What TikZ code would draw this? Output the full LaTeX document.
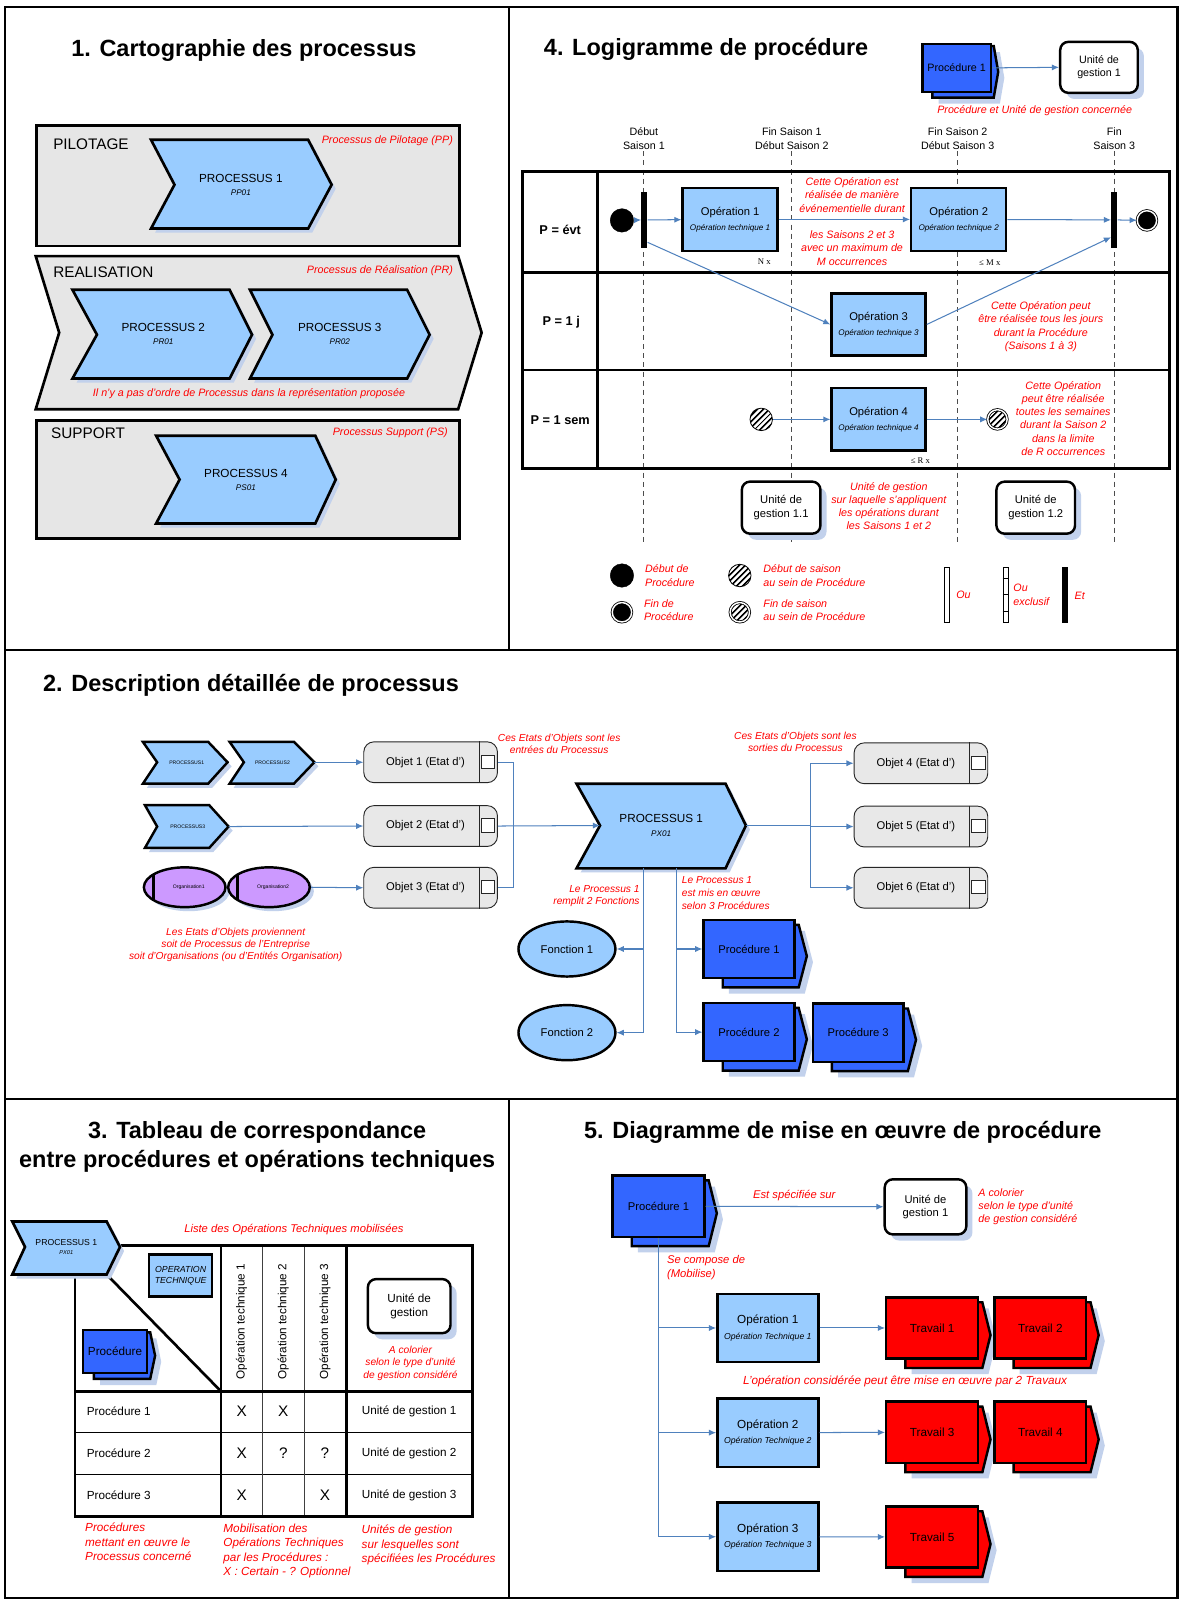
\documentclass[tikz,border=0pt]{standalone}
\usepackage{fontspec}
\setmainfont{Liberation Sans}
\newfontfamily\timesx{Liberation Serif}
\usetikzlibrary{arrows.meta,shapes.geometric,shadows,backgrounds,patterns.meta}

\definecolor{lightblue}{HTML}{99CCFF}
\definecolor{procblue}{HTML}{3366FF}
\definecolor{lanegray}{HTML}{E6E6E6}
\definecolor{objgray}{HTML}{E8E8E8}
\definecolor{orgviolet}{HTML}{CC99FF}
\definecolor{linkblue}{HTML}{4F81BD}
\definecolor{shadowblue}{HTML}{C2D1EC}
\definecolor{notered}{HTML}{FF0000}
\definecolor{travred}{HTML}{FF0000}

\newcommand{\subtxt}[1]{{\fontsize{8}{9}\selectfont\itshape #1}}
\newcommand{\codetxt}[1]{{\fontsize{8}{9}\selectfont\itshape #1}}

\begin{document}
\begin{tikzpicture}[x=1pt,y=-1pt,font=\fontsize{11}{13}\selectfont]
  \tikzset{
    frame/.style={line width=2.4pt},
    ptitle/.style={font=\fontsize{23}{28}\selectfont\bfseries,align=center},
    lanelabel/.style={font=\fontsize{15}{18}\selectfont,anchor=west,inner sep=0pt},
    lane/.style={draw,line width=2.6pt,fill=lanegray},
    shadowed/.style={drop shadow={shadow xshift=4pt,shadow yshift=-4pt,fill=shadowblue,opacity=1}},
    deepshadow/.style={drop shadow={shadow xshift=6pt,shadow yshift=-6pt,fill=shadowblue,opacity=1}},
    chev/.style={draw,line width=2.6pt,fill=lightblue,shadowed},
    chevtxt/.style={align=center,inner sep=0pt,font=\fontsize{11.5}{13}\selectfont},
    note/.style={font=\fontsize{10.5}{13}\selectfont\itshape,text=notered,align=center,inner sep=0pt},
    link/.style={draw=linkblue,line width=1pt},
    conn/.style={link,-{Latex[length=7pt,width=6pt]}},
    opbox/.style={draw,line width=2.4pt,fill=lightblue,align=center,inner sep=0pt},
    proc/.style={draw,line width=2.4pt,fill=procblue,align=center,inner sep=0pt},
    trav/.style={proc,fill=travred},
    procback/.style={draw,line width=2.4pt,fill=procblue,line join=miter,deepshadow},
    unit/.style={draw,line width=2.4pt,fill=white,rounded corners=8pt,align=center,
      inner sep=0pt,deepshadow},
    objet/.style={draw=black!85,line width=0.9pt,fill=objgray,rounded corners=10pt,
      minimum width=131pt,minimum height=40pt,inner sep=0pt},
    func/.style={ellipse,draw,line width=2.4pt,fill=lightblue,inner sep=0pt,
      minimum width=95pt,minimum height=54pt},
    orga/.style={ellipse,draw,line width=2.4pt,fill=orgviolet,inner sep=0pt,
      minimum width=80pt,minimum height=39pt,font=\fontsize{5}{6}\selectfont,shadowed},
    startdot/.style={circle,fill=black,draw,minimum size=23pt,inner sep=0pt},
    enddot/.style={circle,fill=black,draw,line width=0.8pt,double=white,
      double distance=1.4pt,minimum size=19pt,inner sep=0pt},
    hatch/.style={preaction={fill=white},pattern={Lines[angle=45,distance=4pt,line width=1.8pt]}},
    seasondot/.style={circle,draw,line width=0.8pt,hatch,minimum size=22pt,inner sep=0pt},
    seasonend/.style={circle,draw,line width=0.8pt,double=white,double distance=1.4pt,
      hatch,minimum size=19pt,inner sep=0pt},
    syncbar/.style={fill=black,minimum width=6pt,minimum height=55pt,inner sep=0pt},
    choicebar/.style={draw,line width=1pt,fill=white,minimum width=5pt,minimum height=54pt,inner sep=0pt},
    season/.style={draw=black!70,line width=0.8pt,dash pattern=on 5pt off 4pt},
    rowlab/.style={font=\fontsize{12.5}{15}\selectfont\bfseries},
    collab/.style={font=\fontsize{10.5}{14}\selectfont,align=center,inner sep=1pt},
    count/.style={font=\timesx\fontsize{8.5}{10}\selectfont,inner sep=0pt},
    tabthick/.style={line width=2.6pt},
    tabthin/.style={line width=1.2pt},
    tick/.style={font=\fontsize{15}{17}\selectfont}
  }

  \useasboundingbox (0,0) rectangle (1157,1568);
  \begin{scope}[on background layer]
    \fill[white] (0,0) rectangle (1157,1568);
  \end{scope}

  % 1. Cartographie des processus
  \node[ptitle] (t1) at (239,49) {1. Cartographie des processus};
  \draw[lane] (36,123) rectangle (450,241);
  \draw[lane] (35,251) -- (449,251) -- (472,326) -- (449,401) -- (35,401) -- (58,326) -- cycle;
  \draw[lane] (36,412) rectangle (450,528);
  \node[lanelabel] (pilot) at (52,141) {PILOTAGE};
  \node[lanelabel] (real) at (52,267) {REALISATION};
  \node[lanelabel] (supp) at (50,425) {SUPPORT};
  \node[note,anchor=east] (pilotnote) at (444,138) {Processus de Pilotage (PP)};
  \node[note,anchor=east] (realnote) at (444,265) {Processus de Réalisation (PR)};
  \node[note,anchor=east] (suppnote) at (439,424) {Processus Support (PS)};
  \node[note] (ordernote) at (244,386) {Il n'y a pas d'ordre de Processus dans la représentation proposée};
  \draw[chev] (148,137) -- (302,137) -- (325,181) -- (302,224) -- (148,224) -- (171,181) -- cycle;
  \node[chevtxt] (pp01) at (236,181) {PROCESSUS 1\\\codetxt{PP01}};
  \draw[chev] (71,284) -- (225,284) -- (247,328) -- (225,371) -- (71,371) -- (95,328) -- cycle;
  \node[chevtxt] (pr01) at (160,327) {PROCESSUS 2\\\codetxt{PR01}};
  \draw[chev] (245,284) -- (399,284) -- (421,328) -- (399,371) -- (245,371) -- (267,328) -- cycle;
  \node[chevtxt] (pr02) at (333,327) {PROCESSUS 3\\\codetxt{PR02}};
  \draw[chev] (153,427) -- (309,427) -- (329,470) -- (309,513) -- (153,513) -- (176,470) -- cycle;
  \node[chevtxt] (ps01) at (241,470) {PROCESSUS 4\\\codetxt{PS01}};

  % 4. Logigramme de procédure
  \node[ptitle] (t4) at (692,48) {4. Logigramme de procédure};
  \node[proc,minimum width=67pt,minimum height=47pt,font=\fontsize{10.5}{12}\selectfont] (p4proc) at (937.5,66.5) {Procédure 1};
  \node[unit,minimum width=76pt,minimum height=50pt,font=\fontsize{10.5}{13}\selectfont] (u4) at (1077,66) {Unité de\\gestion 1};
  \draw[conn] (p4proc.east) -- (u4.west);
  \node[note] (u4note) at (1014,108) {Procédure et Unité de gestion concernée};
  \foreach \n/\x/\txt in {s1/631/{Début\\Saison 1},s2/776/{Fin Saison 1\\Début Saison 2},
      s3/938.5/{Fin Saison 2\\Début Saison 3},s4/1092/{Fin\\Saison 3}} {
    \node[collab] (\n) at (\x,136) {\txt};
    \draw[season] (\n.south) -- (\x,533);
  }
  \draw[tabthick] (512,168) rectangle (1146,459);
  \draw[tabthick] (512,267) -- (1146,267) (512,362.5) -- (1146,362.5) (585.5,168) -- (585.5,459);
  \node[rowlab] (row1) at (549,225) {P = évt};
  \node[rowlab] (row2) at (550,316) {P = 1 j};
  \node[rowlab] (row3) at (549,412) {P = 1 sem};
  \node[startdot] (start) at (609.5,216) {};
  \node[syncbar] (bar1) at (631.5,215.5) {};
  \node[opbox,minimum width=93pt,minimum height=62pt] (op1) at (715.5,215) {Opération 1\\[2pt]\subtxt{Opération technique 1}};
  \node[opbox,minimum width=93pt,minimum height=62pt] (op2) at (939.5,215) {Opération 2\\[2pt]\subtxt{Opération technique 2}};
  \node[syncbar] (bar2) at (1092,215.5) {};
  \node[enddot] (stop) at (1124,216) {};
  \node[opbox,minimum width=92pt,minimum height=61pt] (op3) at (861,318) {Opération 3\\[2pt]\subtxt{Opération technique 3}};
  \node[opbox,minimum width=92pt,minimum height=61pt] (op4) at (861,411) {Opération 4\\[2pt]\subtxt{Opération technique 4}};
  \node[seasondot] (sstart) at (746,411) {};
  \node[seasonend] (send) at (977.5,411) {};
  \node[count] (nx) at (749,256) {N x};
  \node[count] (mx) at (970,257) {≤ M x};
  \node[count] (rx) at (902,451) {≤ R x};
  \draw[conn] (start) -- (bar1);
  \draw[conn] (bar1) -- (op1);
  \draw[conn] (op1) -- (op2);
  \draw[conn] (op2) -- (bar2);
  \draw[conn] (bar2) -- (stop);
  \draw[conn] ([yshift=-22pt]bar1.east) -- (op3.west);
  \draw[conn] (op3.east) -- ([yshift=-17pt]bar2.west);
  \draw[conn] (sstart) -- (op4);
  \draw[conn] (op4) -- (send);
  \node[note] (evtnote1) at (835,191) {Cette Opération est\\réalisée de manière\\événementielle durant};
  \node[note] (evtnote2) at (835,243) {les Saisons 2 et 3\\avec un maximum de\\M occurrences};
  \node[note] (jnote) at (1020,320) {Cette Opération peut\\être réalisée tous les jours\\durant la Procédure\\(Saisons 1 à 3)};
  \node[note] (semnote) at (1042,410) {Cette Opération\\peut être réalisée\\toutes les semaines\\durant la Saison 2\\dans la limite\\de R occurrences};
  \node[unit,minimum width=77pt,minimum height=51pt] (u11) at (765.5,497.5) {Unité de\\gestion 1.1};
  \node[unit,minimum width=77pt,minimum height=51pt] (u12) at (1015,497.5) {Unité de\\gestion 1.2};
  \node[note] (u11note) at (871,496) {Unité de gestion\\sur laquelle s'appliquent\\les opérations durant\\les Saisons 1 et 2};
  % legende
  \node[startdot] (lgstart) at (609.5,564) {};
  \node[enddot] (lgstop) at (609.5,600) {};
  \node[seasondot] (lgsstart) at (725,564) {};
  \node[seasonend] (lgsend) at (725,600) {};
  \node[note,anchor=west,align=left] (lgstarttxt) at (632,564) {Début de\\Procédure};
  \node[note,anchor=west,align=left] (lgstoptxt) at (631,598) {Fin de\\Procédure};
  \node[note,anchor=west,align=left] (lgsstarttxt) at (748,564) {Début de saison\\au sein de Procédure};
  \node[note,anchor=west,align=left] (lgsendtxt) at (748,598) {Fin de saison\\au sein de Procédure};
  \node[choicebar] (orbar) at (928,583) {};
  \node[note,anchor=west] (ortxt) at (937,583) {Ou};
  \node[choicebar] (xorbar) at (985.5,583) {};
  \foreach \d in {-16,0,16}
    \draw[line width=1pt] ([yshift=\d pt]xorbar.west) -- ([yshift=\d pt]xorbar.east);
  \node[note,anchor=west,align=left] (xortxt) at (993,583) {Ou\\exclusif};
  \node[syncbar] (andbar) at (1044,583) {};
  \node[note,anchor=west] (andtxt) at (1053,584) {Et};

  % 2. Description détaillée de processus
  \node[ptitle] (t2) at (246,672) {2. Description détaillée de processus};
  \draw[chev,line width=2.4pt] (140,727) -- (204,727) -- (223,747) -- (204,768) -- (140,768) -- (154,747) -- cycle;
  \node[chevtxt,font=\fontsize{5}{6}\selectfont] (sp1) at (183,747) {PROCESSUS1};
  \draw[chev,line width=2.4pt] (225,727) -- (288,727) -- (308,747) -- (288,768) -- (225,768) -- (239,747) -- cycle;
  \node[chevtxt,font=\fontsize{5}{6}\selectfont] (sp2) at (267,747) {PROCESSUS2};
  \draw[chev,line width=2.4pt] (142,789) -- (205,789) -- (224,810) -- (205,831) -- (142,831) -- (154,810) -- cycle;
  \node[chevtxt,font=\fontsize{5}{6}\selectfont] (sp3) at (184,810) {PROCESSUS3};
  \coordinate (sp2tip) at (308,747);
  \coordinate (sp3tip) at (224,810);
  \node[orga] (org1) at (181,869.5) {\hspace*{8pt}Organisation1};
  \node[orga] (org2) at (263.6,869.5) {\hspace*{8pt}Organisation2};
  \draw[line width=2.4pt] (150.5,857) -- (150.5,882) (232.7,857) -- (232.7,882);
  \node[note,font=\fontsize{10}{12}\selectfont\itshape] (srcnote) at (231,926) {Les Etats d'Objets proviennent\\soit de Processus de l'Entreprise\\soit d'Organisations (ou d'Entités Organisation)};
  \foreach \n/\x/\y/\k in {o1/422/747/1,o2/422/809.5/2,o3/422/870/3,
      o4/902.5/748/4,o5/902.5/810/5,o6/902.5/870/6}
    \node[objet] (\n) at (\x,\y) {\hspace*{-10pt}Objet \k{} (Etat d')};
  \foreach \o in {o1,o2,o3,o4,o5,o6} {
    \draw[black!85,line width=0.9pt] ([xshift=-18pt]\o.north east) -- ([xshift=-18pt]\o.south east);
    \draw[black!85,line width=0.8pt,fill=white] ([xshift=-16pt,yshift=7pt]\o.east) rectangle ([xshift=-3pt,yshift=-6pt]\o.east);
  }
  \draw[chev] (565,768) -- (711,768) -- (731,809) -- (711,851) -- (565,851) -- (588,809) -- cycle;
  \node[chevtxt] (px01) at (648,809) {PROCESSUS 1\\\codetxt{PX01}};
  \coordinate (pxnotch) at (588,809);
  \coordinate (pxtip) at (731,809);
  \coordinate (inbus) at (503,809.5);
  \coordinate (outbus) at (794.6,809);
  \coordinate (fbus) at (631,851);
  \coordinate (pbus) at (663,851);
  \node[note,font=\fontsize{10}{12}\selectfont\itshape] (innote) at (548,729) {Ces Etats d'Objets sont les\\entrées du Processus};
  \node[note,font=\fontsize{10}{12}\selectfont\itshape] (outnote) at (779.5,727) {Ces Etats d'Objets sont les\\sorties du Processus};
  \node[note,anchor=east,align=right,font=\fontsize{10}{12.5}\selectfont\itshape] (fnote) at (627,878) {Le Processus 1\\remplit 2 Fonctions};
  \node[note,anchor=west,align=left,font=\fontsize{10}{12.5}\selectfont\itshape] (pnote) at (668,875) {Le Processus 1\\est mis en œuvre\\selon 3 Procédures};
  \node[func] (f1) at (555.6,930) {Fonction 1};
  \node[func] (f2) at (555.6,1012) {Fonction 2};
  \node[proc,minimum width=89pt,minimum height=57pt] (pr1) at (734,930) {Procédure 1};
  \node[proc,minimum width=89pt,minimum height=57pt] (pr2) at (734,1011.5) {Procédure 2};
  \node[proc,minimum width=89pt,minimum height=57pt] (pr3) at (841,1012) {Procédure 3};
  \draw[conn] (sp2tip) -- (o1.west);
  \draw[conn] (sp3tip) -- (o2.west);
  \draw[conn] (org2.east) -- (o3.west);
  \draw[link] (o1.east) -| (inbus) |- (o3.east);
  \draw[conn] (o2.east) -- (pxnotch);
  \draw[link] (pxtip) -- (outbus);
  \foreach \o in {o4,o5,o6}
    \draw[conn] (outbus) |- (\o.west);
  \draw[conn] (fbus) |- (f1.east);
  \draw[conn] (fbus) |- (f2.east);
  \draw[conn] (pbus) |- (pr1.west);
  \draw[conn] (pbus) |- (pr2.west);

  % 3. Tableau de correspondance
  \node[ptitle] (t3) at (252,1124) {3. Tableau de correspondance\\entre procédures et opérations techniques};
  \node[note,font=\fontsize{11}{13}\selectfont\itshape] (otlist) at (288,1204.5) {Liste des Opérations Techniques mobilisées};
  \draw[tabthin] (73.5,1404.2) -- (463,1404.2) (73.5,1445.1) -- (463,1445.1);
  \draw[tabthin,black!75] (257.3,1220.4) -- (257.3,1486) (298.2,1220.4) -- (298.2,1486);
  \draw[tabthick] (73.5,1220.4) rectangle (463,1486);
  \draw[tabthick] (73.5,1363.4) -- (463,1363.4) (216.5,1220.4) -- (216.5,1486) (339.6,1220.4) -- (339.6,1486);
  \draw[tabthick] (104.5,1249) -- (216.5,1363.4);
  \draw[chev] (12,1197) -- (104.5,1197) -- (117.6,1222) -- (104.5,1249) -- (12,1249) -- (24.5,1222) -- cycle;
  \node[chevtxt,font=\fontsize{8.5}{9}\selectfont] (px01t) at (65,1222) {PROCESSUS 1\\{\fontsize{5.5}{6}\selectfont\itshape PX01}};
  \node[opbox,minimum width=62pt,minimum height=41pt,font=\fontsize{8.6}{10.5}\selectfont\itshape] (otbox) at (177,1250) {OPERATION\\TECHNIQUE};
  \node[proc,minimum width=63pt,minimum height=42pt,font=\fontsize{11.5}{13}\selectfont] (p3proc) at (112.7,1324.3) {Procédure};
  \foreach \n/\x/\k in {oth1/236.8/1,oth2/277.6/2,oth3/318.4/3}
    \node[rotate=90,anchor=west,inner sep=0pt,font=\fontsize{11.5}{13}\selectfont] (\n) at (\x,1352) {Opération technique \k};
  \node[unit,minimum width=81pt,minimum height=53pt,font=\fontsize{11.5}{14}\selectfont] (u3) at (401,1280) {Unité de\\gestion};
  \node[note,font=\fontsize{10}{12.5}\selectfont\itshape] (u3note) at (402.3,1336) {A colorier\\selon le type d'unité\\de gestion considéré};
  \foreach \n/\y/\a/\b/\c/\k in {ra/1383/X/X//1,rb/1424/X/?/?/2,rc/1465.3/X//X/3} {
    \node[anchor=west,inner sep=0pt,font=\fontsize{11.5}{13}\selectfont] (\n) at (84.9,\y) {Procédure \k};
    \node[tick] (\n-a) at (236.8,\y) {\a};
    \node[tick] (\n-b) at (277.6,\y) {\b};
    \node[tick] (\n-c) at (318.4,\y) {\c};
    \node[font=\fontsize{11.5}{13}\selectfont] (\n-u) at (401,\y) {Unité de gestion \k};
  }
  \node[note,anchor=north west,align=left,font=\fontsize{11.5}{14}\selectfont\itshape] (n3a) at (83.3,1492.5) {Procédures\\mettant en œuvre le\\Processus concerné};
  \node[note,anchor=north west,align=left,font=\fontsize{11.5}{14}\selectfont\itshape] (n3b) at (218.8,1493.5) {Mobilisation des\\Opérations Techniques\\par les Procédures :\\X : Certain - ? Optionnel};
  \node[note,anchor=north west,align=left,font=\fontsize{11.5}{14}\selectfont\itshape] (n3c) at (354.3,1494.5) {Unités de gestion\\sur lesquelles sont\\spécifiées les Procédures};

  % 5. Diagramme de mise en oeuvre de procédure
  \node[ptitle] (t5) at (826,1110) {5. Diagramme de mise en œuvre de procédure};
  \node[proc,minimum width=90pt,minimum height=60pt] (p5proc) at (645.3,1182) {Procédure 1};
  \node[unit,minimum width=80pt,minimum height=54pt] (u5) at (907,1182.7) {Unité de\\gestion 1};
  \node[note,font=\fontsize{11}{13}\selectfont\itshape] (n5a) at (778.4,1171.4) {Est spécifiée sur};
  \node[note,anchor=west,align=left] (n5b) at (958.7,1182.5) {A colorier\\selon le type d'unité\\de gestion considéré};
  \node[note,anchor=west,align=left,font=\fontsize{11}{13.5}\selectfont\itshape] (n5c) at (653.5,1242.5) {Se compose de\\(Mobilise)};
  \foreach \n/\y/\k in {op51/1301.4/1,op52/1404/2,op53/1506/3}
    \node[opbox,minimum width=99pt,minimum height=67pt,font=\fontsize{11.5}{13}\selectfont] (\n) at (752.5,\y) {Opération \k\\[2pt]{\fontsize{8.5}{10}\selectfont\itshape Opération Technique \k}};
  \foreach \n/\x/\y/\k in {tr1/913.5/1301.4/1,tr2/1019.5/1301.4/2,tr3/913.5/1403.6/3,
      tr4/1019.5/1403.6/4,tr5/913.5/1506.2/5}
    \node[trav,minimum width=90pt,minimum height=60pt,font=\fontsize{11.5}{13}\selectfont] (\n) at (\x,\y) {Travail \k};
  \node[note,font=\fontsize{11.5}{13}\selectfont\itshape] (n5d) at (887,1353.6) {L'opération considérée peut être mise en œuvre par 2 Travaux};
  \draw[conn] (p5proc) -- (u5);
  \foreach \o in {op51,op52,op53}
    \draw[conn] (p5proc.south) |- (\o.west);
  \draw[conn] (op51) -- (tr1);
  \draw[conn] (op52) -- (tr3);
  \draw[conn] (op53) -- (tr5);

  % stacked backs of procedures and travaux
  \begin{scope}[on background layer]
    \foreach \n/\s/\c in {p4proc/0.55/procblue,pr1/1/procblue,pr2/1/procblue,pr3/1/procblue,
        p3proc/0.6/procblue,p5proc/1/procblue,tr1/1/travred,tr2/1/travred,tr3/1/travred,
        tr4/1/travred,tr5/1/travred}
      \draw[procback,fill=\c]
        ([shift={(20*\s,6*\s)}]\n.north west) -- ([shift={(3*\s,6*\s)}]\n.north east)
        -- ([shift={(11*\s,7*\s)}]\n.east) -- ([shift={(3*\s,8*\s)}]\n.south east)
        -- ([shift={(20*\s,8*\s)}]\n.south west) -- cycle;
  \end{scope}

  % cadre
  \draw[frame] (5,7) rectangle (1154,1566);
  \draw[frame] (499,7) -- (499,637) (5,637) -- (1154,637) (5,1077) -- (1154,1077) (499,1077) -- (499,1566);
\end{tikzpicture}
\end{document}
